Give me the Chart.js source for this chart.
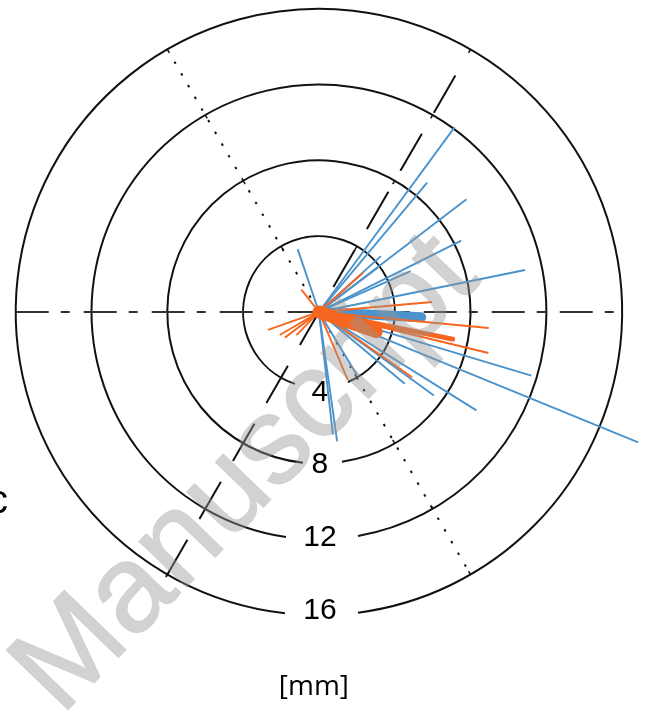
<!DOCTYPE html>
<html>
<head>
<meta charset="utf-8">
<script src="https://cdn.jsdelivr.net/npm/chart.js@4.4.1/dist/chart.umd.min.js"></script>
<style>
  html, body { margin: 0; padding: 0; background: #fff; }
  #wrap { position: relative; width: 650px; height: 713px; }
</style>
</head>
<body>
<div id="wrap"><canvas id="c"></canvas></div>
<script>
// rings (mm), labelled at the bottom of each ring
const ringRadii  = [4, 8, 12, 16];
const ringLabels = ['4', '8', '12', '16'];
const unitLabel  = '[mm]';

// rays: direction in degrees (ccw from +x) and length in mm
const blueAngles  = [53.7, 50.1, 37.4, 26.6, 11.5, 42, 24, 37, 108.7,
                     -16.7, -22.2, -32, -39.9, -36, -58.9, -82, -83.5];
const blueLengths = [12.1, 8.9, 9.8, 8.4, 11.1, 4.4, 5.3, 3.9, 3.5,
                     11.7, 18.2, 9.8, 5.9, 7.5, 3.9, 6.9, 6.5];
const blueBundleAngles  = [-3];
const blueBundleLengths = [5.4];

const orangeAngles  = [128, 41.6, 5, -5.4, -13.6, -35, -67, 199.4, 210.5, 217, 226];
const orangeLengths = [1.5, 3.1, 6.0, 9.0, 9.2, 6.0, 3.9, 2.85, 2.4, 2.25, 1.7];
const orangeBundleAngles  = [-19, -11.5];
const orangeBundleLengths = [3.2, 7.2];

// reference lines through the origin: direction (deg), reach forward / backward (mm)
const refAngles    = [180, 60, 120];
const refForward   = [16, 14.4, 15.25];
const refBackward  = [16, 16.15, 15.9];

const BLUE = '#4b93cc';
const ORANGE = '#f5661f';

function tip(angle, len) {
  const a = angle * Math.PI / 180;
  return { x: len * Math.cos(a), y: len * Math.sin(a) };
}

function rays(angles, lengths, color, widths) {
  return angles.map((a, i) => {
    const w = Array.isArray(widths) ? widths[i] : widths;
    return {
      data: [{ x: 0, y: 0 }, tip(a, lengths[i])],
      showLine: true,
      borderColor: color,
      borderWidth: w,
      borderCapStyle: w > 3 ? 'round' : 'butt',
      pointRadius: 0,
    };
  });
}

// Chart.js paints dataset 0 last, so orange goes first to sit on top
const datasets = [
  ...rays(orangeBundleAngles, orangeBundleLengths, ORANGE, [13, 5]),
  ...rays(orangeAngles, orangeLengths, ORANGE, 1.9),
  ...rays(blueBundleAngles, blueBundleLengths, BLUE, 10),
  ...rays(blueAngles, blueLengths, BLUE, 1.9),
];

// ── grid: rings with label gaps, reference lines, ring labels ───────────
const polarGrid = {
  id: 'polarGrid',
  beforeDatasetsDraw(chart) {
    const { ctx, scales: { x, y } } = chart;
    const cx = x.getPixelForValue(0), cy = y.getPixelForValue(0);
    const px = mm => x.getPixelForValue(mm) - cx;
    // label gap half-widths (px) left / right of the bottom point
    const gapL = [24, 16, 33, 34], gapR = [29, 23, 39, 39];
    const labelNudge = [5, 1, -1.5, -4];
    ctx.save();
    ctx.strokeStyle = '#111';
    ctx.lineWidth = 2;
    ringRadii.forEach((r, i) => {
      const R = px(r);
      const a0 = Math.PI / 2 + Math.asin(gapL[i] / R);
      const a1 = Math.PI / 2 - Math.asin(gapR[i] / R) + Math.PI * 2;
      ctx.beginPath();
      ctx.arc(cx, cy, R, a0, a1);
      ctx.stroke();
      // small ticks where the oblique axes meet the ring
      ctx.lineWidth = 1.5;
      [60, 120, 240, 300].forEach(d => {
        const t = d * Math.PI / 180;
        ctx.beginPath();
        ctx.moveTo(cx + R * Math.cos(t), cy - R * Math.sin(t));
        ctx.lineTo(cx + (R - 4) * Math.cos(t), cy - (R - 4) * Math.sin(t));
        ctx.stroke();
      });
      ctx.lineWidth = 2;
    });

    const dashes = [[33, 12, 9, 14], [43, 24], [2.5, 11]];
    const colors = ['#333', '#111', '#111'];
    refAngles.forEach((d, i) => {
      const p0 = tip(d, refForward[i]);
      const p1 = tip(d + 180, refBackward[i]);
      ctx.beginPath();
      ctx.setLineDash(dashes[i]);
      ctx.lineDashOffset = 0;
      ctx.strokeStyle = colors[i];
      ctx.lineWidth = 2;
      ctx.moveTo(x.getPixelForValue(p0.x), y.getPixelForValue(p0.y));
      ctx.lineTo(x.getPixelForValue(p1.x), y.getPixelForValue(p1.y));
      ctx.stroke();
    });
    ctx.setLineDash([]);

    ctx.fillStyle = '#000';
    ctx.font = '30px "Liberation Sans", Arial, sans-serif';
    ctx.textAlign = 'center';
    ctx.textBaseline = 'middle';
    ringRadii.forEach((r, i) => {
      ctx.fillText(ringLabels[i], cx + 1, cy + px(r) + labelNudge[i]);
    });
    ctx.font = '28px "Open Sans", "Liberation Sans", sans-serif';
    ctx.fillText(unitLabel, cx - 5, 687);
    ctx.textAlign = 'left';
    ctx.font = '40px "Liberation Sans", Arial, sans-serif';
    ctx.fillText('c', -12, 502);
    ctx.restore();
  },
};

// semi-transparent "Manuscript" stamp laid over everything
const watermark = {
  id: 'watermark',
  afterDraw(chart) {
    const { ctx, width, height } = chart;
    const off = document.createElement('canvas');
    off.width = width; off.height = height;
    const o = off.getContext('2d');
    o.translate(247, 475);
    o.rotate(-46 * Math.PI / 180);
    o.fillStyle = o.strokeStyle = '#969696';
    o.lineWidth = 1.5;
    o.lineJoin = 'round';
    o.font = '124px "Liberation Sans", Arial, sans-serif';
    o.textAlign = 'center';
    o.textBaseline = 'middle';
    o.fillText('Manuscript', 0, 0);
    o.strokeText('Manuscript', 0, 0);
    ctx.save();
    ctx.globalAlpha = 0.43;
    ctx.drawImage(off, 0, 0, width, height);
    ctx.restore();
  },
};

new Chart(document.getElementById('c'), {
  type: 'scatter',
  data: { datasets },
  options: {
    responsive: true,
    maintainAspectRatio: false,
    animation: false,
    layout: { padding: 0 },
    plugins: { legend: { display: false }, tooltip: { enabled: false } },
    scales: {
      x: { type: 'linear', display: false, min: -16.83, max: 17.47 },
      y: { type: 'linear', display: false, min: -21.16, max: 16.46 },
    },
  },
  plugins: [polarGrid, watermark],
});
</script>
</body>
</html>
